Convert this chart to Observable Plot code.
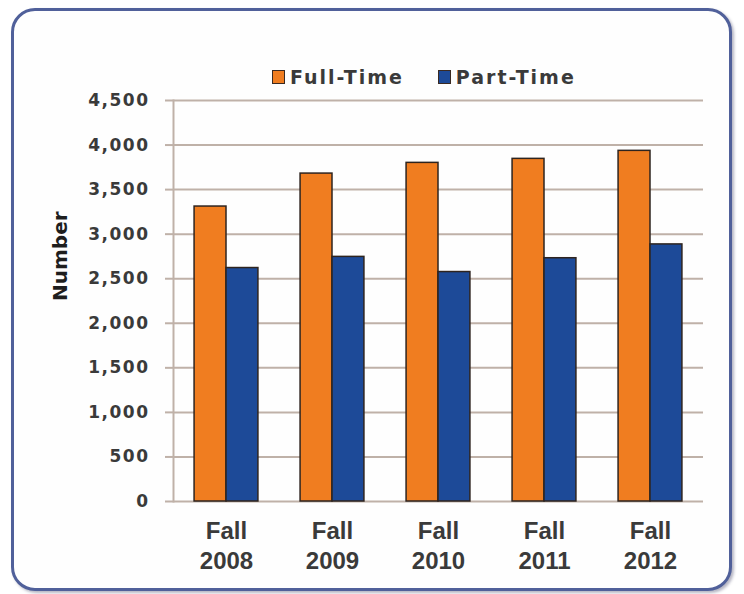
<!DOCTYPE html>
<html>
<head>
<meta charset="utf-8">
<script src="https://cdn.jsdelivr.net/npm/d3@7"></script>
<script src="https://cdn.jsdelivr.net/npm/@observablehq/plot@0.6"></script>
<style>
  body { margin: 0; background: #ffffff; }
  #wrap { position: relative; width: 744px; height: 594px; overflow: hidden; font-family: "Liberation Sans", Arial, sans-serif; }
  #frame { position: absolute; left: 11px; top: 8px; width: 715px; height: 577px; border: 3px solid #50609a; border-radius: 24px; background: #fefefe; box-shadow: 2px 2px 3px rgba(40,40,80,0.35); }
  #legend { position: absolute; left: 272px; top: 64px; height: 26px; display: flex; align-items: center; font-family: "DejaVu Sans", sans-serif; font-weight: bold; font-size: 19px; letter-spacing: 2px; color: #3a3a3a; white-space: nowrap; }
  .sw { display: inline-block; width: 11px; height: 12px; border: 1px solid #3a2a22; margin-right: 5px; }
  .item { display: flex; align-items: center; margin-right: 34px; }
  #chart { position: absolute; left: 0; top: 90px; }
  g[aria-label="y-axis tick label"] text { letter-spacing: 1.5px; }
</style>
</head>
<body>
<div id="wrap">
  <div id="frame"></div>
  <div id="legend"></div>
  <div id="chart"></div>
</div>
<script>
const years = ["Fall 2008", "Fall 2009", "Fall 2010", "Fall 2011", "Fall 2012"];
const seriesNames = ["Full-Time", "Part-Time"];
const fullTime = [3310, 3680, 3800, 3845, 3935];
const partTime = [2620, 2745, 2575, 2730, 2885];
const yTicks = [0, 500, 1000, 1500, 2000, 2500, 3000, 3500, 4000, 4500];
const colors = ["#f07d20", "#1d4a98"];
const axisLabel = "Number";

const rows = [];
years.forEach((yr, i) => {
  rows.push({year: yr, series: seriesNames[0], value: fullTime[i]});
  rows.push({year: yr, series: seriesNames[1], value: partTime[i]});
});

// legend
const legend = document.getElementById("legend");
seriesNames.forEach((s, i) => {
  const it = document.createElement("span");
  it.className = "item";
  const sw = document.createElement("span");
  sw.className = "sw";
  sw.style.background = colors[i];
  it.appendChild(sw);
  it.appendChild(document.createTextNode(s));
  legend.appendChild(it);
});

const grid = "#bfb1a8";
const chart = Plot.plot({
  width: 744,
  height: 504,
  marginTop: 10,
  marginBottom: 93,
  marginLeft: 173,
  marginRight: 41,
  style: {background: "transparent", overflow: "visible"},
  fx: {domain: years, paddingInner: 0, paddingOuter: 0, label: null, round: false},
  x: {domain: seriesNames, paddingInner: 0, paddingOuter: 0.66, axis: null, round: false},
  y: {domain: [0, 4500], label: null},
  color: {domain: seriesNames, range: colors},
  marks: [
    Plot.gridY(yTicks, {stroke: grid, strokeOpacity: 1, strokeWidth: 2}),
    Plot.frame({anchor: "left", facetAnchor: "left", stroke: grid, strokeWidth: 2}),
    Plot.barY(rows, {fx: "year", x: "series", y: "value", fill: "series", stroke: "#2e241f", strokeWidth: 1.5}),
    Plot.axisY(yTicks, {
      tickFormat: d3.format(","), tickSize: 8, tickPadding: 16,
      stroke: grid, strokeWidth: 2, label: null,
      fontSize: 17, fontWeight: "bold", fontFamily: "DejaVu Sans", fill: "#3a3a3a"
    }),
    Plot.axisFx({
      anchor: "bottom", tickSize: 0, tickPadding: 16, label: null,
      tickFormat: d => d.replace(" ", "\n"), lineHeight: 1.25,
      fontSize: 24, fontWeight: "bold", fontFamily: "Liberation Sans", fill: "#3a3a3a"
    }),
    Plot.text([axisLabel], {
      frameAnchor: "left", facetAnchor: "left", dx: -113, rotate: -90,
      fontSize: 20, fontWeight: "bold", fontFamily: "DejaVu Sans", fill: "#1e1e1e"
    })
  ]
});
document.getElementById("chart").appendChild(chart);
</script>
</body>
</html>
